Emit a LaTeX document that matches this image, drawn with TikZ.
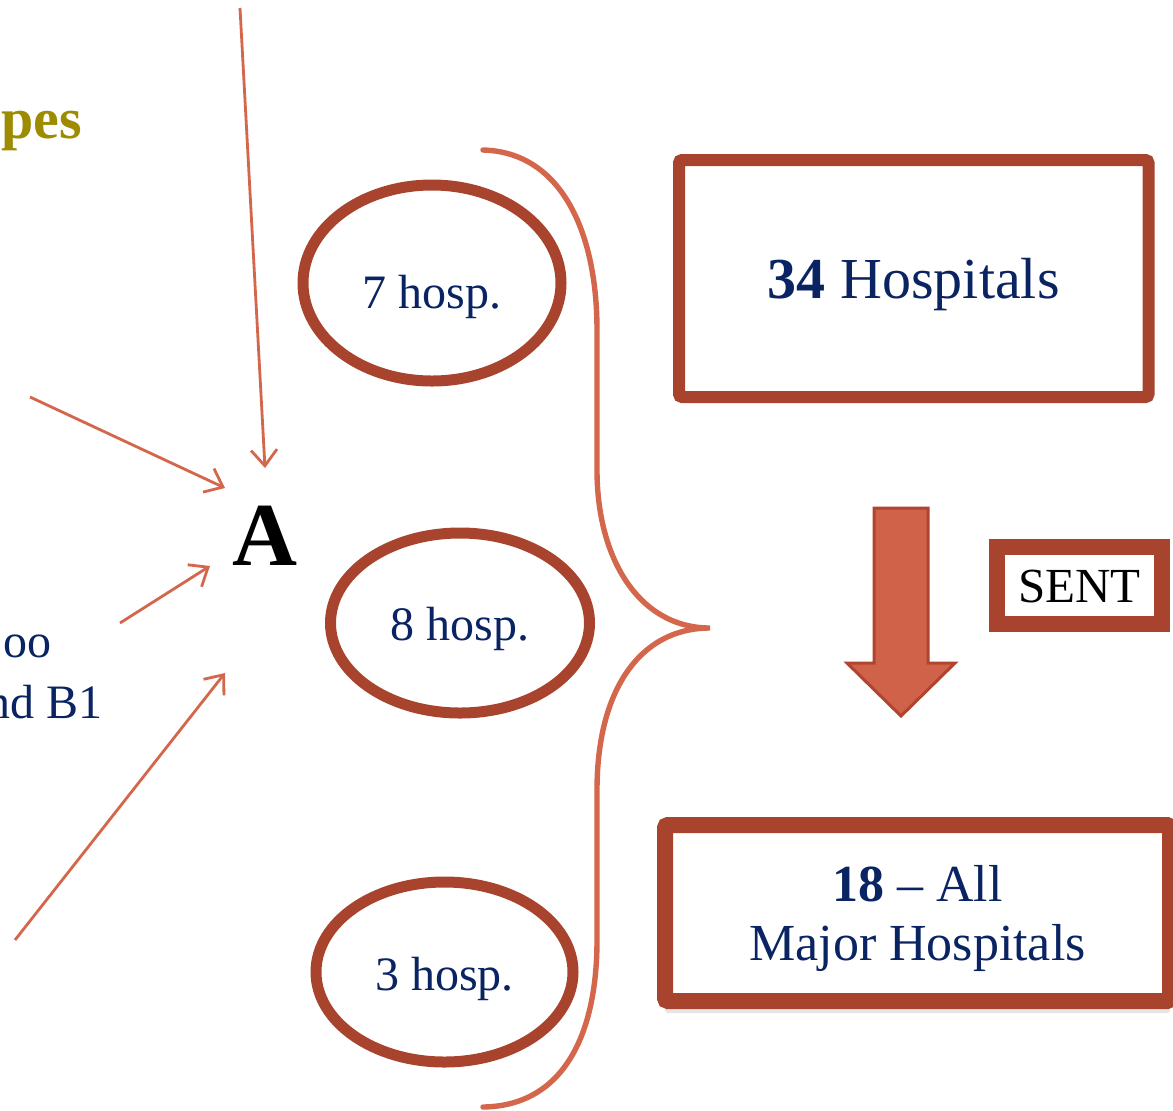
\documentclass[tikz,border=0pt]{standalone}
\usepackage{fontspec}
\setmainfont{Liberation Serif}
\usetikzlibrary{shapes.geometric,arrows.meta,shadows}
\definecolor{rust}{RGB}{168,68,46}
\definecolor{coral}{RGB}{212,103,75}
\definecolor{arrowfill}{RGB}{208,98,73}
\definecolor{arrowline}{RGB}{176,69,47}
\definecolor{navy}{RGB}{10,36,99}
\definecolor{olive}{RGB}{158,140,0}
\tikzset{
  hospell/.style={ellipse, draw=rust, line width=5.5pt, fill=white, inner sep=0pt,
    text=navy, font=\fontsize{24}{28}\selectfont, text depth=0pt},
  bigbox/.style={rectangle, draw=rust, fill=white, rounded corners=1.5pt, inner sep=0pt,
    text=navy, text depth=0pt, align=center},
  pointer/.style={draw=coral, line width=1.4pt, -{Straight Barb[length=8pt,width=13pt,line width=1.4pt]}},
  brace/.style={draw=coral, line width=2.7pt, line cap=round},
  sidetext/.style={inner sep=0pt, text=navy, font=\fontsize{24}{28}\selectfont}
}
\begin{document}
\begin{tikzpicture}[x=0.5pt,y=-0.5pt]
\useasboundingbox (0,0) rectangle (1173,1110);
\fill[white] (0,0) rectangle (1173,1110);

% left cut-off texts
\node[anchor=base east, inner sep=0pt, text=olive, font=\bfseries\fontsize{29}{34}\selectfont] (pes) at (82,138) {pes};
\node[sidetext, anchor=base east] (oo) at (52,657) {oo};
\node[sidetext, anchor=base east] (ndb) at (103,718) {nd B1};

% big A
\node[anchor=base, inner sep=0pt, font=\bfseries\fontsize{45}{50}\selectfont] (A) at (265,565) {A};

% pointers to A
\coordinate (s1) at (240,8);   \coordinate (t1) at (265,468);
\coordinate (s2) at (30,397);  \coordinate (t2) at (225,488);
\coordinate (s3) at (120,623); \coordinate (t3) at (210,566);
\coordinate (s4) at (15,940);  \coordinate (t4) at (225,673);
\draw[pointer] (s1) -- (t1);
\draw[pointer] (s2) -- (t2);
\draw[pointer] (s3) -- (t3);
\draw[pointer] (s4) -- (t4);

% ellipses
\node[hospell, minimum width=129pt, minimum height=98pt, text height=25pt] (h7) at (432,283) {7 hosp.};
\node[hospell, minimum width=129.5pt, minimum height=90pt, text height=17pt] (h8) at (460,623) {8 hosp.};
\node[hospell, minimum width=128.5pt, minimum height=90pt, text height=18pt] (h3) at (444.5,972) {3 hosp.};

% curly brace
\coordinate (bt) at (483,150);
\coordinate (bm) at (710,628);
\coordinate (bb) at (483,1107);
\draw[brace] (bt) .. controls (560,152) and (597,230) .. (597,330) -- (597,470)
  .. controls (597,560) and (640,628) .. (bm)
  .. controls (640,628) and (597,690) .. (597,790) -- (597,940)
  .. controls (597,1040) and (560,1106) .. (bb);

% 34 Hospitals box
\node[bigbox, line width=6pt, minimum width=234.75pt, minimum height=118.5pt,
  font=\fontsize{29}{34}\selectfont, text height=19.5pt] (b34) at (913.75,278.5)
  {\textbf{34} Hospitals};

% down arrow
\draw[fill=arrowfill, draw=arrowline, line width=1.5pt, line join=miter]
  (874,508) -- (928,508) -- (928,663) -- (955,663) -- (901,716) -- (847,663) -- (874,663) -- cycle;

% SENT box
\node[rectangle, draw=rust, fill=white, line width=8pt, inner sep=0pt,
  minimum width=82.25pt, minimum height=38.75pt, text depth=0pt, text height=17pt,
  font=\fontsize{24.5}{29}\selectfont] (sent) at (1079.25,585.25) {SENT};

% 18 box
\node[bigbox, line width=8pt, minimum width=252.5pt, minimum height=88pt,
  font=\fontsize{26}{29.5}\selectfont,
  drop shadow={opacity=0.2, shadow xshift=0pt, shadow yshift=-6pt}] (b18) at (917.5,913)
  {\textbf{18} -- All\\Major Hospitals};
\end{tikzpicture}
\end{document}
